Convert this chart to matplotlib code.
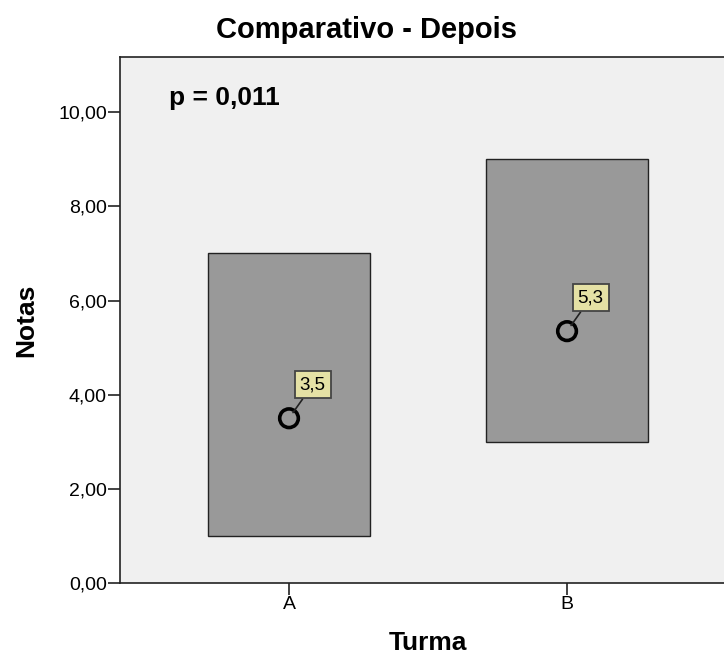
import matplotlib
matplotlib.use("Agg")
import matplotlib.pyplot as plt

plt.rcParams['font.family'] = ['Liberation Sans', 'DejaVu Sans']

turmas = ['A', 'B']
low = [1.0, 3.0]
high = [7.0, 9.0]
medias = [3.5, 5.35]
media_labels = ['3,5', '5,3']
yticks = [0, 2, 4, 6, 8, 10]
ytick_labels = ['0,00', '2,00', '4,00', '6,00', '8,00', '10,00']

fig = plt.figure(figsize=(7.24, 6.59), dpi=100)
ax = fig.add_axes([0.1657, 0.1153, 0.851, 0.798])
ax.set_facecolor('#f0f0f0')

x = range(len(turmas))
ax.bar(x, [h - l for h, l in zip(high, low)], bottom=low, width=0.583,
       color='#999999', edgecolor='#222222', linewidth=1.0, zorder=2)
ax.scatter(x, medias, s=180, facecolors='none', edgecolors='black',
           linewidths=2.6, zorder=3)

for xi, m, lab in zip(x, medias, media_labels):
    ax.annotate(lab, xy=(xi, m), xytext=(17, 24), textcoords='offset points',
                ha='center', va='center', fontsize=13.5,
                bbox=dict(boxstyle='square,pad=0.27', fc='#e5e1a5',
                          ec='#444444', lw=1.3),
                arrowprops=dict(arrowstyle='-', color='#222222', lw=1.2,
                                shrinkA=0, shrinkB=5),
                zorder=4)

ax.text(-0.43, 10.3, 'p = 0,011', fontsize=19, fontweight='bold',
        ha='left', va='center')

ax.set_xlim(-0.608, 1.608)
ax.set_ylim(0, 11.17)
ax.set_xticks(list(x))
ax.set_xticklabels(turmas, fontsize=14)
ax.set_yticks(yticks)
ax.set_yticklabels(ytick_labels, fontsize=14)
ax.tick_params(axis='both', length=8.5, width=1.2, color='#222222', pad=1)
for s in ax.spines.values():
    s.set_color('#222222')
    s.set_linewidth(1.2)
ax.spines['right'].set_visible(False)

ax.set_xlabel('Turma', fontsize=19, fontweight='bold', labelpad=13)
ax.set_ylabel('Notas', fontsize=19, fontweight='bold', labelpad=14)
fig.text(367 / 724, 1 - 30 / 659, 'Comparativo - Depois', fontsize=21,
         fontweight='bold', ha='center', va='center')

fig.savefig('out.png', dpi=100)
